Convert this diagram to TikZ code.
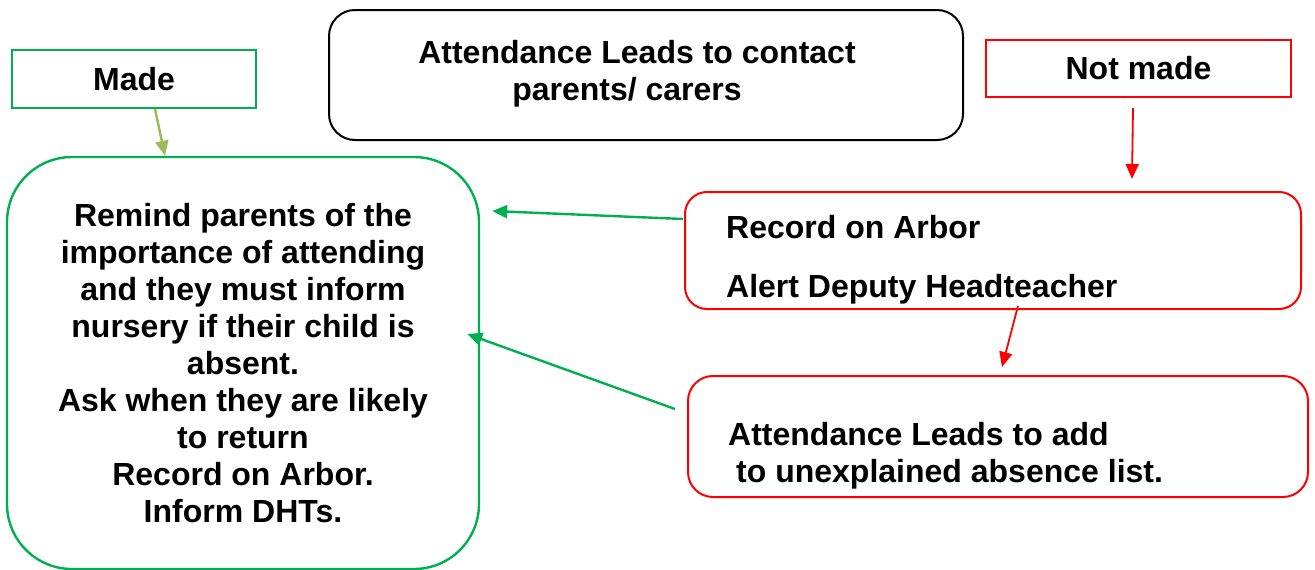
\documentclass[tikz,border=0pt]{standalone}
\usepackage{fontspec}
\setmainfont{Liberation Sans}
\usetikzlibrary{arrows.meta,calc}
\definecolor{grn}{HTML}{00B050}
\definecolor{lgrn}{HTML}{9BBB59}
\definecolor{rd}{HTML}{FF0000}
\begin{document}
\begin{tikzpicture}[x=1pt,y=-1pt,
  txt/.style={font=\fontsize{32}{37}\selectfont\bfseries, inner sep=0pt},
  box/.style={draw, line width=2pt, inner sep=0pt, font=\fontsize{32}{37}\selectfont\bfseries},
  arr/.style={line width=2.4pt, -{Triangle[length=15pt,width=13pt]}}]
\useasboundingbox (0,0) rectangle (1315,570);
% boxes
\node[box, draw=grn, minimum width=244pt, minimum height=58pt] (made) at (134,79) {Made};
\node[box, draw=rd, minimum width=305pt, minimum height=57pt] (notmade) at (1138.5,68.5) {Not made};
\node[box, draw=black, rounded corners=26pt, minimum width=634pt, minimum height=130pt] (contact) at (646,75) {};
\node[txt, anchor=base] at (637,63) {Attendance Leads to contact};
\node[txt, anchor=base] at (627,100) {parents/ carers};
\node[box, draw=grn, line width=2.4pt, rounded corners=65pt, minimum width=472pt, minimum height=412pt, align=center] (big) at (243,363)
 {Remind parents of the\\importance of attending\\and they must inform\\nursery if their child is\\absent.\\Ask when they are likely\\to return\\Record on Arbor.\\Inform DHTs.};
\node[box, draw=rd, rounded corners=22pt, minimum width=616pt, minimum height=117pt] (record) at (993,250.5) {};
\node[txt, anchor=base west] at (726,238) {Record on Arbor};
\node[txt, anchor=base west] at (726,297) {Alert Deputy Headteacher};
\node[box, draw=rd, rounded corners=25pt, minimum width=620pt, minimum height=121pt] (add) at (998,436.5) {};
\node[txt, anchor=base west] at (728,445) {Attendance Leads to add};
\node[txt, anchor=base west] at (736,482) {to unexplained absence list.};
% arrows
\draw[arr, lgrn] ([xshift=21pt]made.south) -- ([xshift=-78pt]big.north);
\draw[arr, rd, line width=1.8pt] ([xshift=-5.5pt,yshift=-10pt]notmade.south) -- ([xshift=139pt,yshift=12pt]record.north);
\draw[arr, rd, line width=1.8pt] ([xshift=25pt,yshift=4pt]record.south) -- ([xshift=4pt,yshift=8pt]add.north);
\draw[arr, grn] ([xshift=-1pt,yshift=31.5pt]record.west) -- ([xshift=12pt,yshift=152pt]big.east);
\draw[arr, grn] ([xshift=-12pt,yshift=27.5pt]add.west) -- ([xshift=-13pt,yshift=29pt]big.east);
\end{tikzpicture}
\end{document}
